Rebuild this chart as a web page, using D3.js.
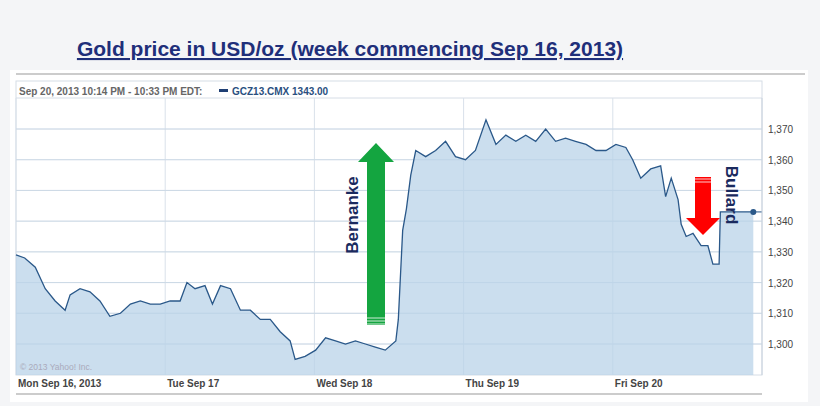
<!DOCTYPE html><html><head><meta charset="utf-8">
<script src="https://cdn.jsdelivr.net/npm/d3@7"></script>
<style>body{margin:0;background:#f4f5f7;}</style></head><body><svg id="c" width="820" height="406"></svg>
<script>
const hours=[0,1.4,3.1,4.7,6.3,7.9,8.7,10.3,11.9,13.5,15.1,16.8,18.4,20.0,21.6,23.2,24.8,26.4,27.5,28.8,30.4,31.6,32.9,34.5,36.1,37.7,39.3,40.9,42.5,44.1,44.9,46.5,48.2,49.8,51.4,53.0,54.6,56.2,57.8,59.4,61.1,61.5,62.2,62.8,63.5,64.3,65.9,67.5,69.1,70.7,72.3,73.9,75.6,77.2,78.8,80.4,82.0,83.6,85.2,86.8,88.4,90.0,91.7,93.3,94.9,96.5,98.1,99.2,100.5,102.1,103.7,104.5,105.4,106.5,107.0,107.8,108.9,110.2,111.3,112.1,113.1,113.3,118.6];
const prices=[1329,1328,1325,1318,1314,1311,1316,1318,1317,1314,1309,1310,1313,1314,1313,1313,1314,1314,1320,1318,1319,1313,1319,1318,1311,1311,1308,1308,1304,1301,1295,1296,1298,1302,1301,1300,1301,1300,1299,1298,1301,1308,1337,1344,1355,1363,1361,1363,1366,1361,1360,1363,1373,1365,1368,1366,1368,1366,1370,1366,1367,1366,1365,1363,1363,1365,1364,1360,1354,1357,1358,1348,1354,1347,1339,1335,1336,1332,1332,1326,1326,1343,1343];
const dayLabels=["Mon Sep 16, 2013","Tue Sep 17","Wed Sep 18","Thu Sep 19","Fri Sep 20"];
const yTicks=[1300,1310,1320,1330,1340,1350,1360,1370];
const svg=d3.select("#c");
const F="Liberation Sans, Arial";
svg.append("rect").attr("x",10).attr("y",70).attr("width",798).attr("height",332).attr("fill","#fff");
svg.append("line").attr("x1",16).attr("x2",805).attr("y1",74).attr("y2",74).attr("stroke","#ccc").attr("stroke-width",2);
svg.append("text").attr("x",350).attr("y",56).attr("text-anchor","middle").attr("font-family",F).attr("font-weight","bold").attr("font-size",21).attr("fill","#1f2f7a").attr("text-decoration","underline").text("Gold price in USD/oz (week commencing Sep 16, 2013)");
const L=16,R=762,T=98,B=375;
const x=d3.scaleLinear().domain([0,120]).range([L,R]);
const y=d3.scaleLinear().domain([1370,1300]).range([129,344]);
svg.append("rect").attr("x",L).attr("y",81).attr("width",R-L).attr("height",B-81).attr("fill","none").attr("stroke","#d6dde6");
svg.append("line").attr("x1",L).attr("x2",R).attr("y1",T).attr("y2",T).attr("stroke","#d6dde6");
const g=svg.append("g");
g.selectAll(".h").data(yTicks).join("line").attr("x1",L).attr("x2",R).attr("y1",d=>y(d)).attr("y2",d=>y(d)).attr("stroke","#d9e1ea");
g.selectAll(".v").data(dayLabels).join("line").attr("x1",(d,i)=>x(i*24)).attr("x2",(d,i)=>x(i*24)).attr("y1",T).attr("y2",B).attr("stroke","#d9e1ea");
const pts=hours.map((h,i)=>[h,prices[i]]);
svg.append("path").datum(pts).attr("d",d3.area().x(d=>x(d[0])).y0(B).y1(d=>y(d[1]))).attr("fill","#b9d3e8").attr("fill-opacity",0.75);
g.selectAll(".h2").data(yTicks).join("line").attr("x1",L).attr("x2",R).attr("y1",d=>y(d)).attr("y2",d=>y(d)).attr("stroke","#c3d4e3").attr("stroke-opacity",0.6);
svg.append("path").datum(pts).attr("d",d3.line().x(d=>x(d[0])).y(d=>y(d[1]))).attr("fill","none").attr("stroke","#2a5889").attr("stroke-width",1.3);
svg.append("line").attr("x1",x(118.6)).attr("x2",R).attr("y1",y(1343)).attr("y2",y(1343)).attr("stroke","#2a5889");
svg.append("circle").attr("cx",x(118.6)).attr("cy",y(1343)).attr("r",3).attr("fill","#2a5889");
svg.append("line").attr("x1",R).attr("x2",R).attr("y1",T).attr("y2",B).attr("stroke","#c8d2dd");
svg.selectAll(".yt").data(yTicks).join("text").attr("x",R+6).attr("y",d=>y(d)+4).attr("font-family",F).attr("font-size",10).attr("fill","#444").text(d3.format(",")); 
svg.selectAll(".xt").data(dayLabels).join("text").attr("x",(d,i)=>x(i*24)+2).attr("y",387).attr("font-family",F).attr("font-size",10).attr("font-weight","bold").attr("fill","#444").text(d=>d);
svg.append("line").attr("x1",L).attr("x2",R).attr("y1",394).attr("y2",394).attr("stroke","#ccc").attr("stroke-width",2);
svg.append("text").attr("x",19).attr("y",95).attr("font-family",F).attr("font-size",10).attr("font-weight","bold").attr("fill","#666").text("Sep 20, 2013 10:14 PM - 10:33 PM EDT:");
svg.append("rect").attr("x",219).attr("y",89).attr("width",9).attr("height",3).attr("fill","#1f3f74");
svg.append("text").attr("x",232).attr("y",95).attr("font-family",F).attr("font-size",10).attr("font-weight","bold").attr("fill","#2a4f80").text("GCZ13.CMX 1343.00");
svg.append("text").attr("x",20).attr("y",370).attr("font-family",F).attr("font-size",8.5).attr("fill","#aab").text("© 2013 Yahoo! Inc.");
svg.append("path").attr("d","M367,325 L367,162 L358,162 L376,143 L394,162 L385,162 L385,325 Z").attr("fill","#14a540");
[318,321,324].forEach(v=>svg.append("line").attr("x1",367).attr("x2",385).attr("y1",v).attr("y2",v).attr("stroke","#fff").attr("stroke-width",0.8));
svg.append("text").attr("transform","translate(358,215) rotate(-90)").attr("text-anchor","middle").attr("font-family",F).attr("font-weight","bold").attr("font-size",17).attr("fill","#1a2a5e").text("Bernanke");
svg.append("path").attr("d","M695,177 L695,218 L686,218 L703,235 L720,218 L711,218 L711,177 Z").attr("fill","#f00");
[179,182].forEach(v=>svg.append("line").attr("x1",695).attr("x2",711).attr("y1",v).attr("y2",v).attr("stroke","#fff").attr("stroke-width",0.8));
svg.append("text").attr("transform","translate(726,195) rotate(90)").attr("text-anchor","middle").attr("font-family",F).attr("font-weight","bold").attr("font-size",17).attr("fill","#1a2a5e").text("Bullard");
</script></body></html>
